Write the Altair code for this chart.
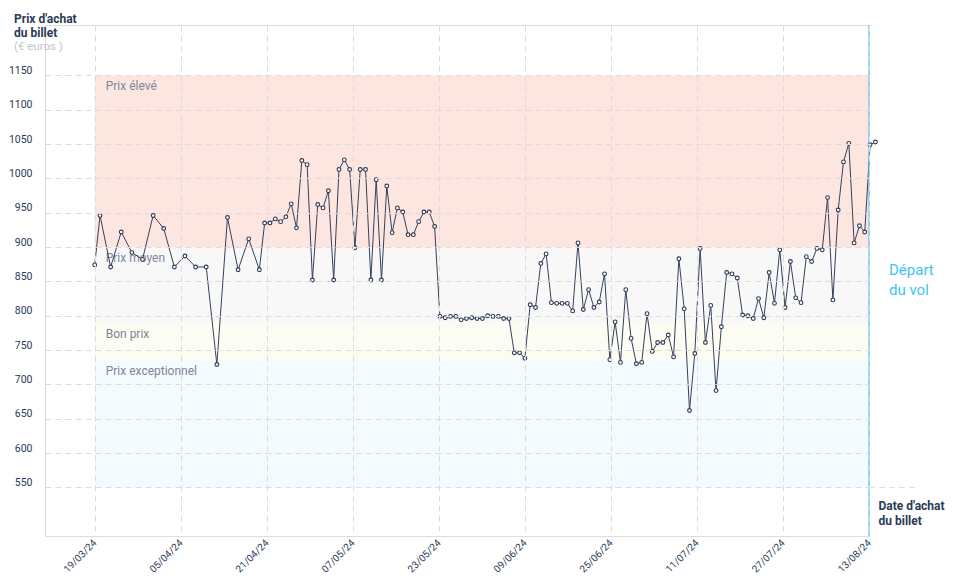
import altair as alt
import pandas as pd

# ---- data ----
# purchase day offsets counted from 19/03/24
purchase_days = [0, 1, 3, 5, 7, 9, 11, 13, 15, 17, 19, 21, 23, 25, 27, 29] + list(range(31, 148))
prices = [
    874, 946, 871, 922, 892, 882, 946, 927, 871, 887, 871, 871, 729, 943, 867, 912,
    867, 935, 935, 941, 937, 944, 963, 928, 1026, 1020,
    852, 962, 957, 982, 852, 1013, 1027, 1013, 899, 1013,
    1013, 852, 998, 852, 989, 921, 957, 951, 918, 918,
    937, 951, 951, 930, 799, 797, 799, 799, 794, 796,
    797, 796, 796, 800, 799, 799,
    796, 796, 746, 746, 738, 816, 812, 876, 890, 819, 818, 818, 818, 807, 906, 809,
    838, 812, 820, 861, 736, 791, 732, 838, 767, 730,
    732, 803, 748, 761, 761, 772, 740, 883, 810, 662, 745, 898, 761, 815, 691, 784,
    863, 861, 855, 801, 800, 796, 825, 797, 863, 818,
    896, 812, 879, 826, 819, 886, 879, 898, 896, 972, 823, 954, 1024, 1051, 906, 931,
    922, 1049, 1053,
]
assert len(purchase_days) == len(prices)

tick_days = [0, 16.2, 32.4, 48.6, 64.8, 81.0, 97.2, 113.4, 129.6, 145.8]
tick_labels = ["19/03/24", "05/04/24", "21/04/24", "07/05/24", "23/05/24",
               "09/06/24", "25/06/24", "11/07/24", "27/07/24", "13/08/24"]
y_ticks = [550, 600, 650, 700, 750, 800, 850, 900, 950, 1000, 1050, 1100, 1150]

band_names = ["Prix élevé", "Prix moyen", "Bon prix", "Prix exceptionnel"]
band_top = [1150, 900, 790, 735]
band_bottom = [900, 790, 735, 550]
band_colors = ["#fde6e0", "#f8f8f9", "#fcfcf3", "#f3fbfe"]

y_title_lines = ["Prix d'achat", "du billet"]
y_title_pos = [1232, 1212]
y_unit = "(€ euros )"
y_unit_pos = [1191]
depart_lines = ["Départ", "du vol"]
depart_pos = [867, 838]
x_title_lines = ["Date d'achat", "du billet"]
x_title_pos = [523, 501]

departure_day = tick_days[-1]
x_domain = [-9.36, departure_day]
y_domain = [479.2, 1223.4]

NAVY = "#2b3a55"
FONT = "Roboto"

# ---- tables ----
df = pd.DataFrame({"day": purchase_days, "prix": prices})
bands = pd.DataFrame({"name": band_names, "top": band_top, "bottom": band_bottom,
                      "x0": tick_days[0], "x1": departure_day})

label_arr = "[" + ",".join("'%s'" % t for t in tick_labels) + "]"
label_expr = f"{label_arr}[round(datum.value / {tick_days[1]})]"

xscale = alt.Scale(domain=x_domain, nice=False, zero=False)
yscale = alt.Scale(domain=y_domain, nice=False, zero=False)

xaxis = alt.Axis(values=tick_days, labelExpr=label_expr, grid=True, gridDash=[6, 4],
                 gridColor="#dcdcdc", domain=False, ticks=False, labelAngle=315,
                 labelAlign="right", labelBaseline="middle", labelPadding=5,
                 labelFontSize=10, labelColor=NAVY, labelFont=FONT, title=None, zindex=1)
yaxis = alt.Axis(values=y_ticks, format="d", grid=True, gridDash=[6, 4], gridColor="#dcdcdc",
                 domain=False, ticks=False, labelPadding=13, labelOffset=-5,
                 labelFontSize=10.5, labelColor=NAVY, labelFont=FONT, title=None, zindex=1)

base = alt.Chart(df)

band_rect = alt.Chart(bands).mark_rect().encode(
    x=alt.X("x0:Q", scale=xscale, axis=xaxis),
    x2="x1:Q",
    y=alt.Y("top:Q", scale=yscale, axis=yaxis),
    y2="bottom:Q",
    color=alt.Color("name:N", scale=alt.Scale(domain=band_names, range=band_colors), legend=None),
)

band_text = alt.Chart(bands).mark_text(
    align="left", baseline="middle", dx=11, dy=11, fontSize=12, color="#7f8699", font=FONT
).encode(x="x0:Q", y="top:Q", text="name:N")

line = base.mark_line(color="#35415a", strokeWidth=1).encode(
    x=alt.X("day:Q", scale=xscale), y=alt.Y("prix:Q", scale=yscale))
points = base.mark_point(shape="circle", filled=True, fill="white", stroke="#2e3a52",
                         strokeWidth=1.1, size=14, opacity=1).encode(
    x="day:Q", y="prix:Q")

depart_rule = alt.Chart(pd.DataFrame({"d": [departure_day]})).mark_rule(
    color="#4fc3f7", strokeWidth=1.2).encode(x="d:Q")

extra_grid = alt.Chart(pd.DataFrame({"y": [y_ticks[0]], "a": [departure_day], "b": [155]})).mark_rule(
    color="#dcdcdc", strokeDash=[6, 4]).encode(x="a:Q", x2="b:Q", y="y:Q")

depart_text = alt.Chart(pd.DataFrame({"t": depart_lines, "y": depart_pos, "x": departure_day})).mark_text(
    align="left", baseline="middle", dx=20, fontSize=15, color="#3cc6f2", font=FONT
).encode(x="x:Q", y="y:Q", text="t:N")

x_title = alt.Chart(pd.DataFrame({"t": x_title_lines, "y": x_title_pos, "x": departure_day})).mark_text(
    align="left", baseline="middle", dx=9.5, fontSize=12, fontWeight="bold", color=NAVY, font=FONT
).encode(x="x:Q", y="y:Q", text="t:N")

y_title = alt.Chart(pd.DataFrame({"t": y_title_lines, "y": y_title_pos})).mark_text(
    align="left", baseline="middle", fontSize=12, fontWeight="bold", color=NAVY, font=FONT
).encode(x=alt.value(-31), y="y:Q", text="t:N")

y_unit_text = alt.Chart(pd.DataFrame({"t": [y_unit], "y": y_unit_pos})).mark_text(
    align="left", baseline="middle", fontSize=11.5, color="#c3c6cd", font=FONT
).encode(x=alt.value(-31), y="y:Q", text="t:N")

chart = alt.layer(
    band_rect, band_text, extra_grid, line, points, depart_rule,
    depart_text, x_title, y_title, y_unit_text
).properties(
    width=824, height=511,
    padding={"left": 37, "top": 17, "right": 81, "bottom": 41},
    autosize=alt.AutoSizeParams(type="none"),
).configure_view(stroke=None).configure(font=FONT)

chart.save("out.html", embed_options={"renderer": "svg", "actions": False})
